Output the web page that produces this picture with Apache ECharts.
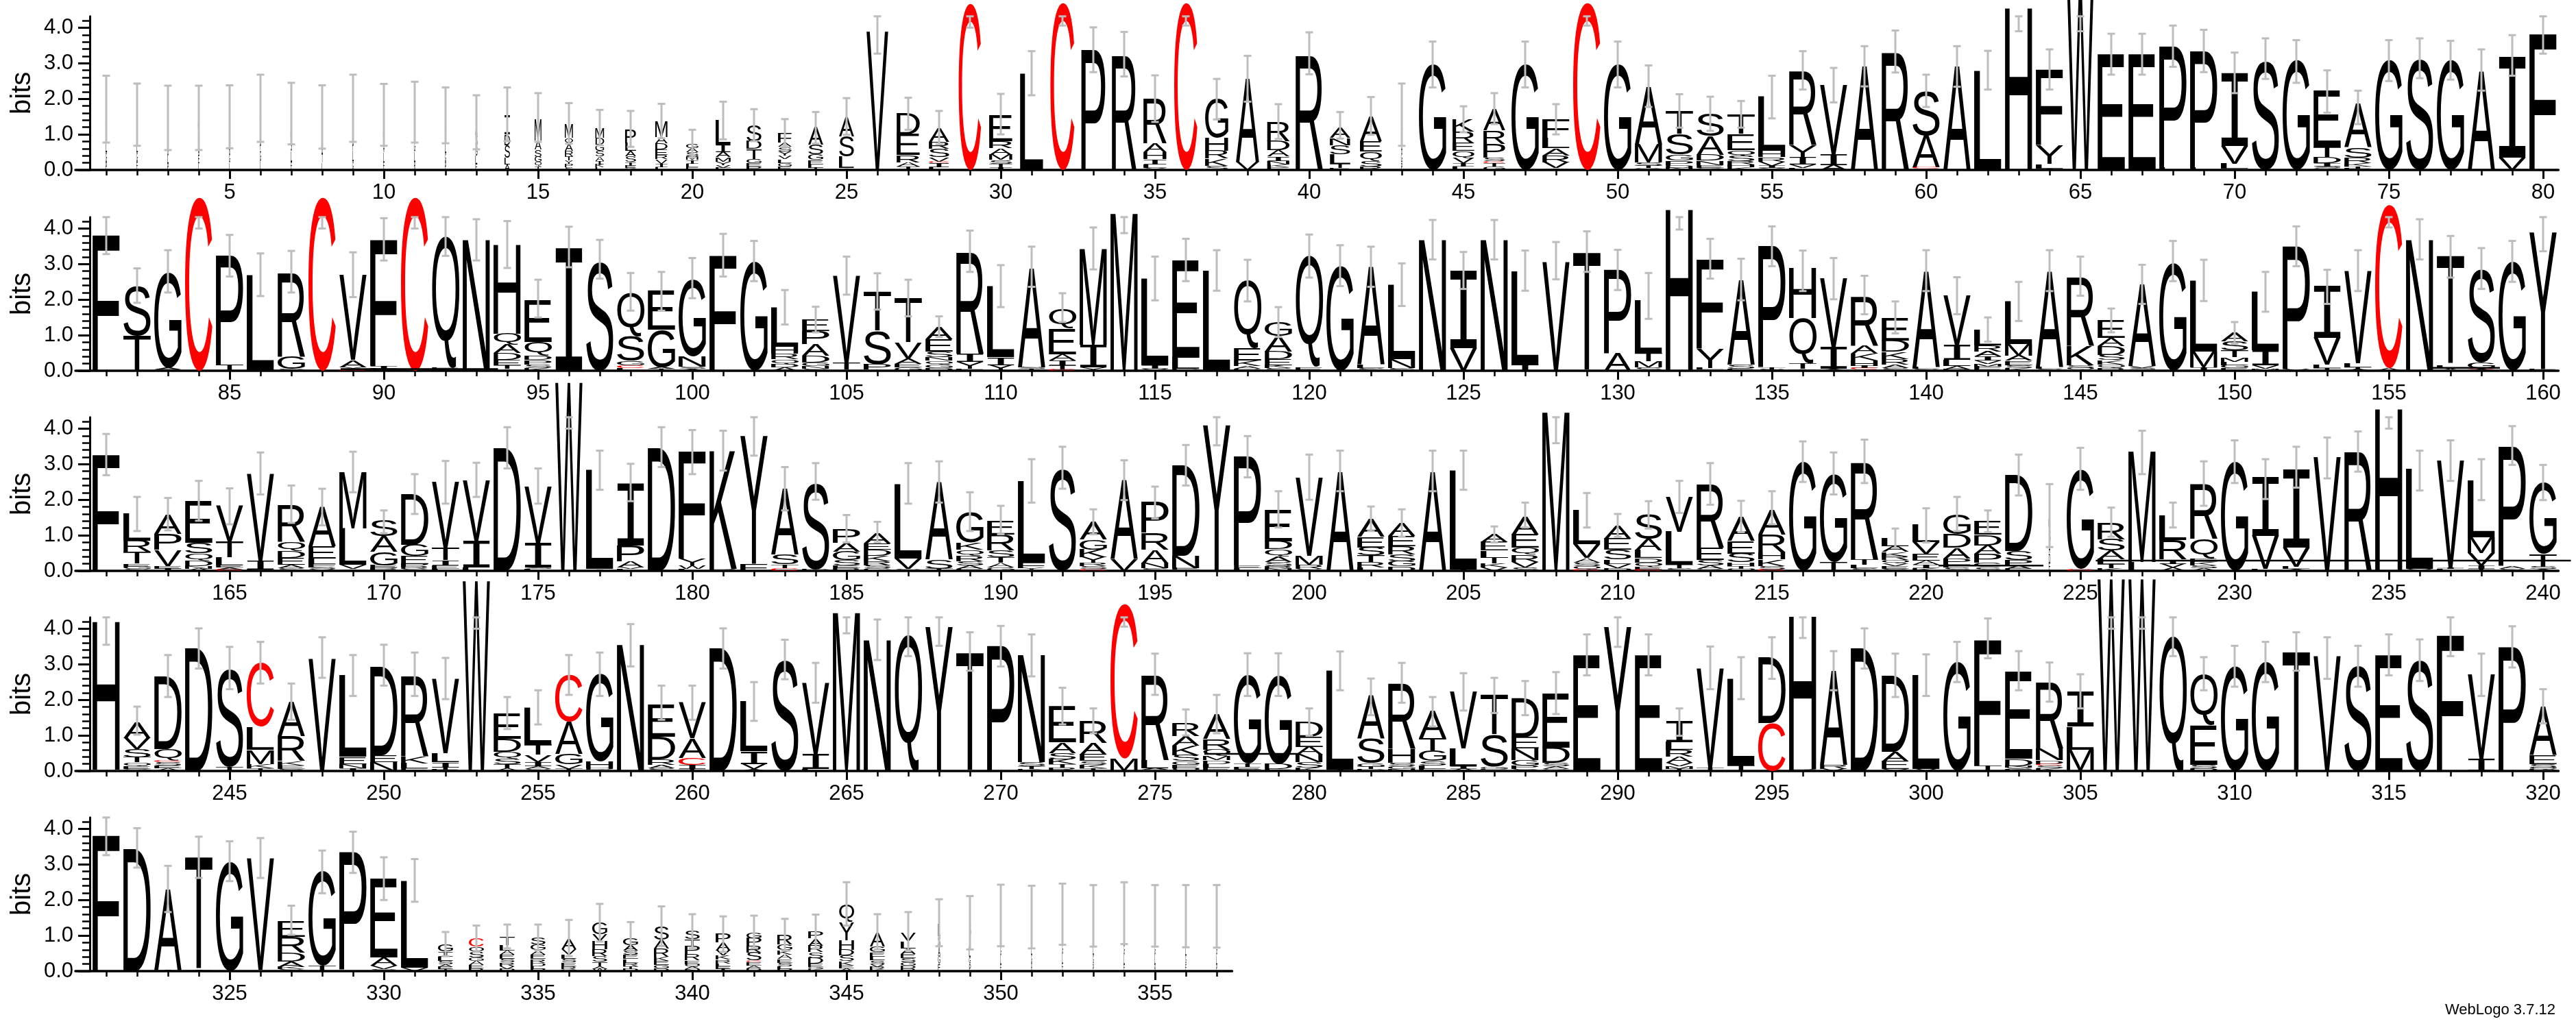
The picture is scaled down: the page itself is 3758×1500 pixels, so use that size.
<!DOCTYPE html>
<html><head><meta charset="utf-8">
<script src="https://cdn.jsdelivr.net/npm/echarts@6/dist/echarts.min.js"></script>
<style>html,body{margin:0;padding:0;background:#fff}#c{width:3758px;height:1500px}</style>
</head><body><div id="c"></div>
<script>
// ---- stacks: letters listed top -> bottom, each letter followed by its height in bits ----
const stacksRow1 = [
"S0.45 A0.4 L0.35 G0.3 P0.21","A0.4 S0.35 L0.3 G0.28 E0.23","S0.4 A0.35 G0.3 L0.22 P0.19","G0.4 S0.35 A0.3 E0.22 L0.19","A0.4 S0.35 R0.3 G0.25 L0.2",
"S0.45 A0.4 P0.33 G0.3 L0.25","A0.4 G0.35 S0.3 L0.3 E0.23","S0.4 A0.35 G0.3 T0.24 L0.2","A0.45 S0.4 P0.33 L0.3 G0.25","S0.4 G0.35 A0.3 L0.28 E0.22",
"A0.42 S0.38 G0.3 L0.28 R0.24","S0.4 A0.35 L0.3 G0.26 P0.22","A0.35 S0.32 G0.27 L0.22 E0.18","I0.55 D0.3 S0.35 L0.2 A0.15","M0.6 A0.25 S0.2 G0.15 Q0.12 T0.1",
"M0.4 Q0.17 A0.2 R0.15 T0.12 Y0.1 P0.09 S0.08","M0.28 D0.2 G0.17 S0.15 A0.13 I0.1 K0.09 L0.07","P0.4 L0.23 A0.15 S0.16 I0.1 E0.07 G0.05","M0.45 A0.18 D0.17 E0.15 R0.13 V0.12 I0.1 L0.08","G0.12 A0.12 S0.12 M0.1 I0.1 L0.1 E0.08",
"L0.68 I0.2 A0.15 M0.12 Y0.1 V0.08 F0.06","S0.45 D0.22 T0.28 G0.12 E0.1 P0.09","F0.26 A0.13 S0.13 Y0.12 V0.1 L0.1 G0.1 E0.1","A0.48 S0.28 G0.15 E0.12 L0.1 T0.06","A0.55 S0.58 L0.32 I0.05",
"V3.9","D0.58 E0.58 R0.2 A0.12 T0.1","A0.38 R0.2 S0.23 V0.12 C0.05 I0.12 L0.07","C4.68","E0.74 R0.2 A0.18 M0.15 S0.1 T0.1 I0.08",
"L2.72","C4.7","P3.38","R3.26","R1.28 A0.25 H0.2 I0.15 L0.1 Y0.05",
"C4.7","G1.1 H0.36 R0.22 K0.2 S0.12","A2.35 V0.22","R0.55 D0.26 A0.17 I0.12 N0.1 K0.08 E0.08","R3.26",
"A0.3 N0.2 S0.26 L0.26 T0.13 E0.05","A0.7 E0.29 Q0.26 S0.16 R0.1","L0.4 S0.35 A0.3 G0.28 P0.2","G2.97","K0.35 R0.32 E0.22 Q0.2 V0.14 I0.1 L0.09",
"A0.6 R0.38 P0.38 S0.1 C0.05 T0.1 G0.1","G2.97","F0.52 L0.3 A0.2 R0.2 V0.16 I0.05","C4.7","G2.97",
"A1.61 M0.52 S0.1 T0.07 G0.05","T0.65 S0.58 G0.16 P0.13 D0.08 N0.06","S0.65 A0.52 D0.16 N0.13 E0.08 G0.06","T0.55 E0.45 Q0.17 S0.14 R0.1 H0.08 K0.07","L1.52 H0.16 R0.13 V0.13 I0.06 Y0.05",
"R2.1 Y0.35 I0.2 V0.1 L0.05","V1.95 I0.3 A0.14","A2.9","R3.33","S1.25 A0.9 C0.04 T0.03",
"A2.91","L2.8","H4.55","F2.13 Y0.52 L0.13 I0.04","W5.35",
"E3.26","E3.26","P3.42 L0.06","P3.29 L0.06","I2.06 V0.5 L0.15 A0.03",
"S3.1","G3.1","E1.58 T0.29 D0.16 I0.1 S0.05 G0.05","A1.23 S0.29 R0.16 K0.1 T0.05 E0.04","G3.1",
"S3.13","G3.1","A2.77","I2.84 V0.35","F3.82"];
const stacksRow2 = [
"F3.81","S1.42 T0.98","G2.7 A0.04 S0.04","C4.87","P3.05 T0.18",
"L2.7","R2.38 G0.35 S0.05","C4.87","V2.4 A0.2 Y0.06 C0.04","F3.55 I0.07 L0.06",
"C4.87","Q3.7 E0.04 K0.04","N3.68","H2.5 Q0.3 A0.25 D0.2 E0.15 T0.1 I0.05","E1.19 Q0.38 D0.13 P0.12 S0.1 K0.08",
"I3.45","S3.1","Q1.2 S0.7 G0.12 C0.08 L0.07","E1.12 G1.05 A0.05 T0.05","G2.15 N0.3 S0.06 A0.05",
"F3.23","G3.07","L1.1 H0.2 R0.16 Q0.13 D0.1 A0.09","E0.32 P0.37 A0.33 D0.19 G0.1 N0.08 S0.05","V2.45 T0.2 E0.03",
"T1.1 S0.95 P0.15 A0.03","T1.25 V0.45 A0.15 E0.1 G0.1","A0.35 E0.35 S0.15 N0.1 Q0.1 G0.1 D0.08","R2.88 I0.23 Y0.2 F0.05","L2.0 I0.22 Y0.16",
"A2.8 S0.05 T0.05","Q0.55 E0.72 A0.18 I0.13 T0.12 C0.04","M2.7 I0.64 Y0.1","M4.42","L2.45 I0.1 V0.05",
"E2.75 L0.32 D0.05","L2.81","Q1.9 E0.35 K0.15 A0.08 D0.05","G0.4 A0.44 D0.21 E0.16 K0.09 S0.07","Q3.12 E0.1",
"G2.94","A2.75 L0.1 S0.07","L2.1 N0.25 S0.07","N3.68","I2.18 V0.63",
"N3.68","L2.65 I0.16","V3.07","T3.33","P2.35 A0.5",
"L1.5 T0.22 M0.16 S0.1","H4.53","F2.5 Y0.55 L0.05 S0.03","A2.38 S0.12 E0.05","P3.4 T0.05 S0.04",
"H1.4 Q1.27 T0.16 I0.05","V1.95 I0.6 A0.05","R1.4 A0.22 K0.2 H0.15 I0.06 C0.04 E0.03","E0.65 D0.32 K0.2 R0.16 A0.1 S0.07","A2.7 L0.05 S0.05",
"V1.4 I0.42 L0.16 A0.1 R0.04","L0.45 R0.17 A0.14 I0.12 V0.09 M0.08 F0.06 E0.05","L1.2 M0.32 A0.15 E0.12 S0.08 K0.08","A2.7 L0.05 S0.05","R1.95 K0.55 S0.08 Q0.05 T0.03",
"E0.5 A0.22 D0.25 S0.15 K0.12 Q0.1 R0.08","A2.3 V0.05 S0.05 T0.03","G3.03","L2.0 M0.45 I0.09","A0.24 S0.25 T0.2 M0.12 L0.1 G0.09 E0.07",
"L1.65 I0.42 V0.1 M0.05","P3.45 V0.05","I1.45 V0.75 L0.1 T0.07","V2.6 L0.12 T0.05 A0.04","C4.6 A0.07",
"N3.68","T3.05 L0.08 V0.05 I0.03","S2.65 G0.15 C0.04 A0.04","G3.07","Y3.85 E0.05"];
const stacksRow3 = [
"F3.27","L0.75 R0.32 T0.33 E0.08 G0.07 S0.05","A0.55 P0.45 V0.45 E0.08 I0.06","E1.18 S0.3 Q0.2 D0.15 N0.08 A0.06","V1.0 T0.45 L0.22 E0.06 A0.05 C0.04",
"V2.45 I0.25 E0.04","R1.05 Q0.26 D0.2 E0.19 A0.1 S0.07","A1.1 E0.35 L0.15 F0.1 S0.05 V0.05","M1.57 L1.03 V0.12 I0.05","S0.45 A0.45 G0.38 E0.06 P0.05 R0.04",
"D1.42 G0.33 E0.21 P0.09 R0.06 S0.05","V1.85 T0.35 I0.15 E0.1 L0.05","V1.7 I0.75 L0.1","D3.46","V1.6 I0.68 S0.05 L0.05",
"W5.3","L2.78 I0.05","I1.75 P0.45 A0.17 V0.05 L0.05","D3.46","F3.0 Y0.2 W0.1 L0.05",
"K3.3 R0.05","Y3.6 F0.2","A1.85 S0.28 T0.1 C0.08","S2.45 D0.05","P0.4 A0.25 G0.24 S0.15 E0.08 R0.07",
"A0.3 E0.17 D0.18 K0.15 R0.11 S0.09 G0.07","L2.1 V0.3 S0.05","A2.18 S0.26 T0.06","G0.85 K0.2 Q0.17 R0.15 S0.12 A0.1 E0.05","E0.4 R0.45 S0.2 T0.15 A0.13 G0.1",
"L2.3 F0.15 Y0.05 V0.03","S2.88","A0.5 G0.28 K0.21 Y0.16 R0.09 S0.08 C0.06","A2.22 V0.33","P0.85 R0.48 A0.37 N0.15 S0.07",
"D2.55 N0.35 E0.05 A0.03","Y4.1","P3.05 E0.08 L0.07","E0.88 D0.22 Q0.2 A0.15 S0.12 R0.08 N0.06","V2.2 M0.25 R0.12 S0.05",
"A2.79","A0.5 E0.3 S0.22 T0.2 R0.14 L0.1","A0.36 E0.3 R0.22 S0.2 G0.14 D0.13","A2.79","L2.78 I0.04",
"A0.22 E0.24 L0.2 T0.17 K0.11 V0.09","A0.5 E0.38 Q0.2 R0.2 V0.15 S0.1","M4.46","L0.95 V0.38 A0.13 S0.11 Q0.09 C0.04","A0.37 E0.32 S0.27 L0.13 V0.11 D0.08",
"S0.68 A0.32 L0.21 D0.13 Q0.11 E0.08 C0.04","V0.98 L0.93 T0.09 S0.08","R1.8 E0.35 S0.15 A0.1 G0.05","A0.67 E0.35 S0.25 H0.1 T0.08 Q0.06","A0.7 R0.5 H0.2 K0.18 S0.1 C0.04",
"G3.08","G2.47 T0.25","R2.75 T0.15 L0.1 S0.08","L0.22 A0.16 K0.13 R0.11 Q0.09 V0.08 E0.07 S0.06","L0.48 V0.32 E0.2 A0.11 I0.1 K0.07",
"G0.55 D0.38 A0.3 P0.15 F0.1 S0.1","E0.38 D0.3 A0.24 P0.24 G0.13 S0.11","D2.14 S0.25 P0.15 A0.1 E0.06","G0.4 S0.35 A0.3 D0.28 E0.22","G2.8 C0.05",
"R0.48 S0.32 A0.24 L0.14 T0.11 K0.08","M3.1 L0.25","L0.7 R0.55 I0.12 V0.11 A0.09","R1.55 Q0.55 E0.1 K0.1 S0.08 A0.07","G3.07",
"I1.65 V0.93 L0.05","I2.2 V0.55 L0.06 A0.05","V3.2","R3.37","H4.55",
"L2.82 V0.05","V3.0 I0.05 L0.05","L1.6 M0.45 V0.35 I0.1 T0.05","P3.35 A0.08 S0.05","G2.0 T0.36 S0.07 A0.05"];
const stacksRow4 = [
"H4.16 Q0.04","A0.45 V0.32 S0.22 T0.15 Q0.1 E0.08 G0.06","D2.05 Q0.3 C0.06 S0.1 E0.08 A0.07","D3.46","S2.78 T0.12",
"C1.8 L0.65 M0.4 K0.12 T0.08","A0.95 R0.7 K0.12 E0.1 S0.06","V3.17","L2.3 E0.2 N0.12 I0.08","D2.5 E0.2 N0.25",
"R2.27 K0.2 L0.15 E0.07","V2.1 L0.25 I0.15 T0.06 E0.04","W5.35","E0.72 D0.37 Q0.2 S0.14 T0.12 A0.08","L1.04 T0.3 V0.2 I0.12 A0.08 S0.05",
"C1.31 A0.9 G0.3 V0.13 T0.06","G2.45 H0.2 D0.04 R0.03","N3.55","E0.9 D0.65 R0.15 A0.1 S0.07","V1.0 A0.55 C0.2 I0.12 T0.05",
"D3.46","L1.4 I0.35 V0.15 A0.05","S3.14","V2.0 I0.43 L0.05","M4.45",
"N3.68","Q3.81","Y4.06","T3.33","P3.52",
"N3.0 S0.12 T0.08 K0.05","E1.0 A0.3 S0.18 K0.14 T0.1 R0.09","R0.62 A0.32 E0.19 S0.11 K0.09 T0.08","C4.35 M0.35","R2.4 L0.22 A0.05 S0.03",
"R0.38 A0.27 K0.27 S0.17 G0.11 E0.09 Q0.08","A0.7 R0.3 Q0.18 M0.12 D0.1 L0.1 E0.1","G2.5 T0.1 E0.08 S0.04","G2.5 D0.15 E0.05","D0.42 E0.29 A0.21 N0.21 S0.15 K0.1",
"L2.78 I0.04","A1.2 S0.7 G0.1 T0.07 D0.05","R1.85 H0.4 S0.1 G0.08 N0.05","A0.75 T0.35 G0.3 S0.12 L0.1 E0.06","V1.6 L0.5 I0.08 A0.06",
"T1.12 S0.9 G0.06 P0.03 Q0.03","D1.1 E0.32 N0.32 G0.15 P0.1 S0.06","E1.53 D0.43 S0.1 A0.08 G0.05","E3.27","Y4.06",
"E3.27","I0.58 L0.21 R0.19 A0.16 V0.1 M0.08 T0.06","V2.8 T0.1","L2.45 T0.15","D1.85 C1.35",
"H4.3 R0.05","A2.65 R0.11 V0.06","D3.46","D2.15 A0.27 E0.22 V0.05","L2.64 V0.06",
"G3.07","F3.53 T0.15","E2.45 D0.2 N0.05 S0.05 K0.04","R1.87 N0.33 D0.1 C0.05 S0.08 K0.07","I1.0 L0.65 M0.6",
"W5.4","W5.4","Q3.78","Q1.43 E1.12 S0.1 D0.07","G2.94",
"G3.07","T3.36","V3.23","S2.98","E3.27",
"S3.14","F3.81","V2.37 I0.35","P3.49","A1.35 E0.25 S0.1 Q0.05 D0.05"];
const stacksRow5 = [
"F3.81","D3.44","A2.28 I0.04","T3.15 I0.05","G3.07",
"V3.14 A0.03","E0.45 R0.45 D0.25 A0.15 K0.07 S0.05","G2.67 T0.15","P3.3 S0.03","E2.22 A0.22 V0.1 S0.06",
"L2.45 V0.1","G0.2 I0.15 L0.12 S0.1 A0.08 E0.06 T0.05","C0.22 Q0.16 S0.14 G0.11 A0.11 E0.09 R0.08","T0.22 L0.15 A0.12 E0.12 S0.1 R0.1 V0.08 D0.06","S0.2 G0.15 A0.13 E0.12 R0.1 D0.1 L0.08 P0.06",
"A0.3 V0.15 L0.12 S0.1 E0.1 R0.08 G0.06","G0.33 V0.19 H0.23 R0.19 S0.16 T0.13 A0.07 W0.06","G0.2 A0.15 S0.12 E0.12 L0.1 R0.1 T0.08 D0.06","S0.38 A0.25 R0.22 K0.13 E0.11 G0.09 D0.08","S0.22 T0.2 P0.22 R0.18 E0.1 Q0.08 A0.07 N0.05",
"P0.25 A0.22 V0.14 K0.12 R0.1 L0.08 E0.08 I0.06","G0.16 P0.22 R0.19 S0.22 C0.05 E0.1 A0.08 D0.07","R0.28 G0.16 K0.13 A0.12 E0.1 S0.1 L0.08 P0.06","P0.2 A0.2 R0.19 S0.16 D0.16 E0.1 G0.06 K0.05","Q0.52 Y0.5 H0.27 D0.16 S0.15 K0.13 E0.09 A0.07",
"A0.38 G0.16 E0.13 L0.11 S0.1 V0.08 R0.07 K0.05","V0.22 L0.2 A0.15 E0.12 S0.12 G0.1 D0.08 R0.07","L0.35 S0.3 A0.27 G0.22 E0.2","S0.37 A0.32 L0.27 G0.2 P0.2","A0.45 S0.4 G0.28 L0.24 E0.2",
"S0.4 A0.36 L0.28 G0.25 R0.22","A0.44 S0.38 G0.3 L0.26 E0.22","S0.42 A0.38 L0.3 G0.26 P0.2","A0.46 S0.4 G0.3 L0.26 E0.2","S0.42 A0.38 G0.3 L0.26 R0.2",
"A0.42 S0.38 L0.3 G0.25 E0.2","S0.42 A0.38 G0.3 L0.25 P0.2"];

// ---- error bars (bits): low and high end, per position ----
const errLow = [
0.77,0.68,0.56,0.56,0.61,0.79,0.72,0.60,0.79,0.68,0.77,0.75,0.58,0.81,0.79,0.74,0.69,0.65,0.89,0.35,
0.86,0.81,0.65,0.74,0.99,3.27,1.13,0.72,4.0,1.0,2.1,4.06,2.75,2.63,1.35,4.06,1.42,1.92,0.87,2.69,
0.88,0.99,0.68,2.32,1.06,1.29,2.32,1.0,4.06,2.32,1.77,1.19,1.1,1.19,1.45,2.26,1.9,2.35,2.74,1.77,
2.34,2.26,3.9,2.26,3.9,2.68,2.68,2.9,2.75,2.16,2.56,2.45,1.61,1.29,2.5,2.58,2.54,2.23,2.65,3.27,
3.28,1.91,2.2,4.0,2.65,2.1,2.2,4.0,2.07,3.1,4.0,3.23,3.1,2.89,1.5,2.91,2.59,1.69,1.69,2.04,
2.65,2.52,1.3,1.08,2.14,1.72,1.53,0.95,2.78,1.79,2.36,1.37,2.85,3.87,1.98,2.52,2.25,1.95,0.95,2.62,
2.38,2.36,1.82,3.13,2.3,3.13,2.25,2.57,2.78,2.27,1.46,3.97,2.59,1.98,2.94,2.24,2.01,1.59,1.05,2.24,
1.59,0.82,1.4,2.24,2.11,1.08,1.88,2.52,1.96,0.76,1.66,2.94,1.88,2.24,4.03,3.13,2.62,2.3,2.5,3.36,
2.69,1.12,1.14,1.41,1.31,2.15,1.35,1.28,2.21,1.06,1.6,1.89,2.08,2.88,1.89,4.0,2.28,1.96,2.92,2.72,
2.82,3.24,1.7,2.0,0.8,0.8,1.89,1.92,1.12,1.03,1.92,2.31,1.03,1.99,1.47,2.4,3.53,2.63,1.22,2.0,
2.24,1.12,0.96,2.24,2.28,0.8,1.22,3.59,1.22,0.96,1.19,1.63,1.86,1.09,1.31,2.5,2.15,2.47,0.64,0.8,
1.12,1.09,2.12,0.67,2.28,0.96,2.72,1.22,1.83,2.47,2.02,2.34,2.6,2.79,4.0,2.26,2.53,1.99,2.98,1.99,
3.55,1.02,2.08,2.88,2.3,2.46,1.44,2.62,2.11,2.4,2.11,2.02,4.0,1.18,1.31,2.14,2.11,2.94,1.44,1.44,
2.88,1.41,2.58,1.92,3.87,3.12,3.23,3.52,2.82,2.94,2.66,1.31,1.06,4.06,2.14,1.0,1.06,2.11,2.11,0.99,
2.27,1.57,1.92,1.25,1.7,1.63,1.57,1.6,2.69,3.49,2.69,0.99,2.3,2.02,2.59,3.74,2.27,2.88,2.08,2.11,
2.5,3.17,2.27,1.95,1.76,4.0,4.0,3.23,2.27,2.37,2.5,2.82,2.59,2.37,2.69,2.53,3.23,2.11,2.91,1.34,
3.26,2.91,1.66,2.62,2.53,2.62,1.02,2.19,2.76,2.0,1.95,0.42,0.54,0.64,0.58,0.42,0.83,0.42,0.7,0.64,
0.54,0.64,0.58,0.64,1.28,0.61,0.58,0.7,0.61,0.7,0.64,0.74,0.69,0.76,0.69,0.67,0.66];
const errHigh = [
2.65,2.43,2.37,2.37,2.38,2.68,2.45,2.38,2.68,2.42,2.48,2.32,2.10,2.32,2.16,1.88,1.69,1.66,1.86,1.13,
1.92,1.71,1.43,1.63,2.02,4.32,2.03,1.66,4.32,2.14,3.34,4.32,4.01,3.88,2.66,4.32,2.56,3.21,1.85,3.87,
1.63,2.05,2.43,3.61,1.79,2.16,3.61,1.85,4.32,3.61,2.94,2.13,2.06,1.94,2.65,3.34,2.87,3.48,3.92,2.68,
3.48,3.35,4.32,3.39,4.32,3.83,3.83,4.06,3.94,3.3,3.7,3.65,2.8,2.23,3.65,3.7,3.63,3.39,3.79,4.32,
4.32,2.88,3.39,4.32,3.82,3.3,3.37,4.32,3.33,4.29,4.32,4.32,4.26,4.21,2.56,4.05,3.68,2.75,2.78,3.17,
3.85,3.65,2.27,1.8,3.21,2.74,2.56,1.53,3.94,2.97,3.49,2.18,4.03,4.32,3.21,3.71,3.39,3.12,1.79,3.83,
3.53,3.49,3.02,4.24,3.34,4.24,3.38,3.62,3.92,3.4,2.75,4.32,3.71,3.15,4.06,3.38,3.17,2.67,1.95,3.39,
2.63,1.5,2.5,3.39,3.21,1.75,2.98,3.65,3.12,1.37,2.78,4.06,2.84,3.39,4.32,4.26,3.79,3.45,3.65,4.32,
3.85,2.08,2.05,2.53,2.32,3.33,2.4,2.31,3.35,1.7,2.72,3.09,3.04,4.04,2.88,4.32,3.38,3.01,4.04,3.96,
3.94,4.32,2.92,3.03,1.57,1.38,3.03,3.08,2.21,1.83,3.14,3.49,1.73,3.11,2.37,3.54,4.32,3.79,2.24,3.27,
3.38,1.81,1.73,3.38,3.38,1.25,1.92,4.32,2.19,1.6,1.96,2.53,3.03,1.97,2.24,3.64,3.33,3.69,1.19,1.76,
2.08,1.7,3.27,2.44,3.46,1.78,3.94,1.92,3.08,3.67,3.14,3.49,3.75,3.92,4.32,3.38,3.67,3.14,4.07,2.98,
4.32,1.81,3.26,4.01,3.49,3.63,2.46,3.76,3.26,3.55,3.33,3.18,4.32,2.08,2.27,3.26,3.33,4.13,2.4,2.4,
4.01,2.5,3.69,3.04,4.32,4.26,4.32,4.32,3.9,4.08,3.84,2.34,1.76,4.32,3.3,1.73,2.14,3.31,3.31,1.76,
3.36,2.6,3.04,2.08,2.75,2.62,2.53,2.78,3.84,4.32,3.84,1.76,3.5,3.2,3.76,4.32,3.37,4.01,3.3,3.28,
3.63,4.29,3.37,3.05,2.72,4.32,4.32,4.32,3.2,3.52,3.63,3.9,3.76,3.52,3.84,3.7,4.32,3.3,4.07,2.3,
4.32,4.02,2.96,3.78,3.65,3.74,1.84,3.39,3.92,3.2,3.15,1.1,1.28,1.31,1.31,1.44,1.89,1.38,1.82,1.6,
1.54,1.56,1.47,1.59,2.5,1.6,1.66,2.02,2.11,2.43,2.4,2.46,2.42,2.5,2.42,2.42,2.42];

// ---- relative stack widths for gappy columns (all other positions use the full width) ----
const stackWidth = {
1:0.05,2:0.05,3:0.05,4:0.05,5:0.05,6:0.05,7:0.05,8:0.05,9:0.05,10:0.05,11:0.05,12:0.05,13:0.07,
14:0.2,15:0.25,16:0.3,17:0.32,18:0.4,19:0.45,20:0.45,21:0.55,22:0.55,23:0.5,24:0.55,25:0.55,
26:0.8,27:0.85,28:0.75,29:0.82,30:0.85,31:0.85,32:0.88,33:0.88,34:0.9,35:0.85,36:0.85,37:0.85,38:0.85,39:0.82,
41:0.75,42:0.8,43:0.05,45:0.8,46:0.8,224:0.06,
332:0.55,333:0.55,334:0.55,335:0.55,336:0.55,337:0.55,338:0.55,339:0.55,340:0.55,341:0.55,342:0.55,343:0.55,344:0.55,345:0.55,346:0.55,347:0.55,
348:0.08,349:0.06,350:0.04,351:0.04,352:0.04,353:0.04,354:0.04,355:0.04,356:0.04,357:0.04};

// ---- stray horizontal strokes seen in the logo: [from position, to position, height in bits] ----
const strayStrokes = [[88.6, 93.7, 0.05], [156.4, 158.6, 0.08], [220.4, 223.8, 0.15], [225.5, 240.9, 0.29], [276.6, 279.7, 0.48]];

const majorTicks = [5,10,15,20,25,30,35,40,45,50,55,60,65,70,75,80];
const yMajor = [0,1,2,3,4];
const yMinor = [0.2,0.4,0.6,0.8,1.2,1.4,1.6,1.8,2.2,2.4,2.6,2.8,3.2,3.4,3.6,3.8,4.2];

// ---- layout ----
const ROWS = [
  {start:1,   count:80, base:248,  xmax:80.5},
  {start:81,  count:80, base:541,  xmax:80.5},
  {start:161, count:80, base:833,  xmax:80.5},
  {start:241, count:80, base:1125, xmax:80.5},
  {start:321, count:37, base:1417, xmax:37.5}
];
const BIT_PX = 51.9, YMAX = 4.3219, COL_PX = 45, LEFT = 110, LETTER_FILL = 0.89;
const SANS = '"Liberation Sans", Arial, Helvetica, sans-serif';
const LETTER_FONT = '100px ' + SANS;
const I_FONT = '100px "Liberation Mono", "DejaVu Sans Mono", monospace';

const allStacks = [].concat(stacksRow1, stacksRow2, stacksRow3, stacksRow4, stacksRow5)
  .map(s => s.trim().split(/\s+/).map(t => ({ch: t[0], h: parseFloat(t.slice(1))})));

const mctx = document.createElement('canvas').getContext('2d');
const mcache = {};
function metrics(ch) {
  if (mcache[ch]) return mcache[ch];
  const font = ch === 'I' ? I_FONT : LETTER_FONT;
  mctx.font = font; mctx.textBaseline = 'middle'; mctx.textAlign = 'left';
  const m = mctx.measureText(ch);
  return (mcache[ch] = {L: m.actualBoundingBoxLeft, R: m.actualBoundingBoxRight,
    A: m.actualBoundingBoxAscent, D: m.actualBoundingBoxDescent, font});
}

const grids = [], xAxes = [], yAxes = [], series = [];
ROWS.forEach((row, r) => {
  const h = YMAX * BIT_PX;
  grids.push({left: LEFT, top: row.base - h, width: row.xmax * COL_PX, height: h, containLabel: false, outerBoundsMode: 'none'});
  const all = []; for (let i = 1; i <= row.count; i++) all.push(i);
  const majors = majorTicks.filter(v => v <= row.count);
  xAxes.push({gridIndex: r, type: 'value', min: 0, max: row.xmax, position: 'bottom',
    axisLine: {show: true, lineStyle: {color: '#000', width: 3.5}},
    axisTick: {show: true, customValues: all, length: 8, lineStyle: {color: '#000', width: 2.5}},
    axisLabel: {show: false}, splitLine: {show: false}});
  xAxes.push({gridIndex: r, type: 'value', min: 0, max: row.xmax, position: 'bottom',
    axisLine: {show: false},
    axisTick: {show: true, customValues: majors, length: 13, lineStyle: {color: '#000', width: 3}},
    axisLabel: {show: true, customValues: majors, formatter: v => String(v + row.start - 1),
      fontSize: 31, fontFamily: SANS, color: '#000', margin: 18},
    splitLine: {show: false}});
  yAxes.push({gridIndex: r, type: 'value', min: 0, max: YMAX, position: 'left', offset: -21,
    axisLine: {show: true, lineStyle: {color: '#000', width: 3}},
    axisTick: {show: true, customValues: yMajor, length: 17, lineStyle: {color: '#000', width: 3}},
    axisLabel: {show: true, customValues: yMajor, formatter: v => v.toFixed(1), fontSize: 31, fontFamily: SANS, color: '#000', margin: 24},
    splitLine: {show: false},
    name: 'bits', nameLocation: 'middle', nameRotate: 90, nameGap: 78,
    nameTextStyle: {fontSize: 40, fontFamily: SANS, color: '#000'}});
  yAxes.push({gridIndex: r, type: 'value', min: 0, max: YMAX, position: 'left', offset: -21,
    axisLine: {show: false},
    axisTick: {show: true, customValues: yMinor, length: 11, lineStyle: {color: '#000', width: 2.5}},
    axisLabel: {show: false}, splitLine: {show: false}});

  const data = []; for (let i = 1; i <= row.count; i++) data.push([i, row.start + i - 1]);

  series.push({type: 'custom', xAxisIndex: 2 * r, yAxisIndex: 2 * r, clip: false, silent: true, z: 2,
    data: data, encode: {x: 0, y: 1},
    renderItem: function (params, api) {
      const li = api.value(0), gi = api.value(1);
      const letters = allStacks[gi - 1];
      const frac = stackWidth[gi] || 1;
      const colW = api.size([1, 0])[0];
      const cx = api.coord([li, 0])[0];
      const w = colW * LETTER_FILL * frac;
      let cum = letters.reduce((s, l) => s + l.h, 0);
      const children = [];
      for (const l of letters) {
        const yt = api.coord([li, cum])[1];
        const yb = api.coord([li, cum - l.h])[1];
        cum -= l.h;
        if (yb - yt < 0.2) continue;
        const m = metrics(l.ch);
        const sx = w / (m.L + m.R), sy = (yb - yt) / (m.A + m.D);
        children.push({type: 'text', x: cx - w / 2 + sx * m.L, y: yt + sy * m.A, scaleX: sx, scaleY: sy,
          style: {text: l.ch, font: m.font, fill: l.ch === 'C' ? '#ff0000' : '#000000',
            textAlign: 'left', textVerticalAlign: 'middle', align: 'left', verticalAlign: 'middle'}});
      }
      return {type: 'group', children: children};
    }});

  series.push({type: 'custom', xAxisIndex: 2 * r, yAxisIndex: 2 * r, clip: false, silent: true, z: 3,
    data: data, encode: {x: 0, y: 1},
    renderItem: function (params, api) {
      const li = api.value(0), gi = api.value(1);
      const x = api.coord([li, 0])[0];
      const y1 = api.coord([li, errLow[gi - 1]])[1];
      const y2 = api.coord([li, errHigh[gi - 1]])[1];
      const st = {stroke: '#bdbdbd', lineWidth: 3};
      return {type: 'group', children: [
        {type: 'line', shape: {x1: x, y1: y1, x2: x, y2: y2}, style: st},
        {type: 'line', shape: {x1: x - 5.5, y1: y1, x2: x + 5.5, y2: y1}, style: st},
        {type: 'line', shape: {x1: x - 5.5, y1: y2, x2: x + 5.5, y2: y2}, style: st}]};
    }});

  const strays = strayStrokes.filter(s => s[0] >= row.start - 0.5 && s[0] < row.start + row.count)
    .map(s => [s[0] - row.start + 1, s[1] - row.start + 1, s[2]]);
  if (strays.length) {
    series.push({type: 'custom', xAxisIndex: 2 * r, yAxisIndex: 2 * r, clip: false, silent: true, z: 2,
      data: strays, encode: {x: [0, 1], y: 2},
      renderItem: function (params, api) {
        const p1 = api.coord([api.value(0), api.value(2)]);
        const p2 = api.coord([api.value(1), api.value(2)]);
        return {type: 'line', shape: {x1: p1[0], y1: p1[1], x2: p2[0], y2: p2[1]}, style: {stroke: '#000', lineWidth: 2.5}};
      }});
  }
});

const chart = echarts.init(document.getElementById('c'), null, {renderer: 'canvas', width: 3758, height: 1500});
chart.setOption({
  animation: false,
  backgroundColor: '#ffffff',
  title: {text: 'WebLogo 3.7.12', right: 25, bottom: 10,
    textStyle: {fontSize: 22, fontWeight: 'normal', fontFamily: SANS, color: '#000'}},
  grid: grids, xAxis: xAxes, yAxis: yAxes, series: series
});
</script>
</body></html>
